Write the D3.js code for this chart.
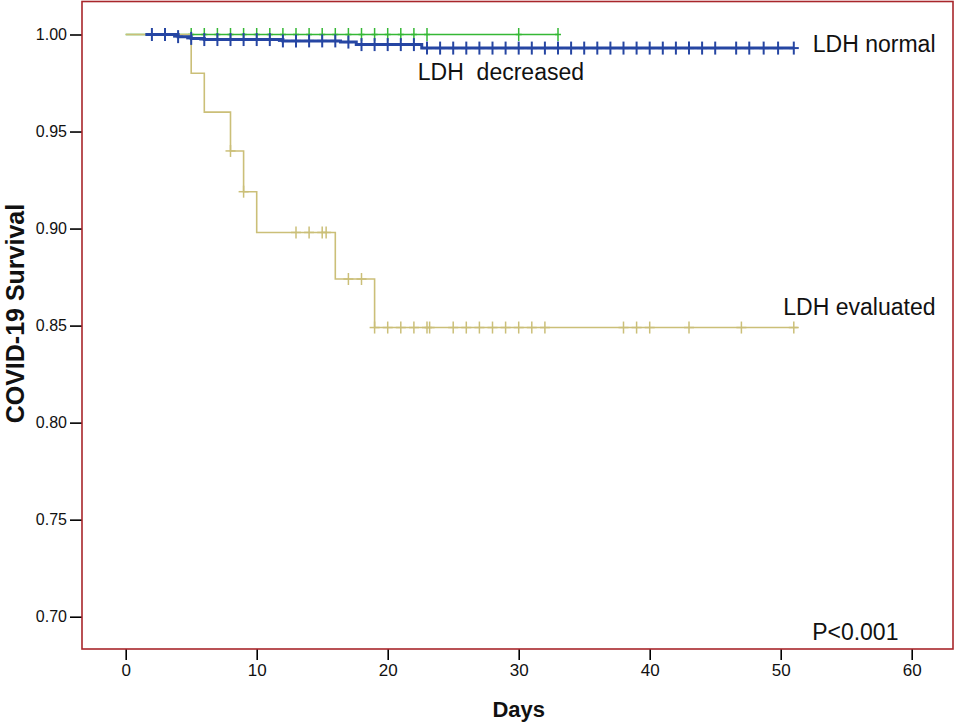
<!DOCTYPE html>
<html>
<head>
<meta charset="utf-8">
<script src="https://cdn.jsdelivr.net/npm/d3@7"></script>
<style>
  html, body { margin: 0; padding: 0; background: #fff; }
  svg { display: block; font-family: "Liberation Sans", Arial, sans-serif; }
</style>
</head>
<body>
<svg id="chart" width="957" height="722"></svg>
<script>
// ---- data ----
const xTicks = [0, 10, 20, 30, 40, 50, 60];
const yTicks = [0.70, 0.75, 0.80, 0.85, 0.90, 0.95, 1.00];

// LDH decreased (green): no events
const greenStepTimes = [0];
const greenStepSurv  = [1.0];
const greenEnd = 33;
const greenCensor = [5,6,7,8,9,10,11,12,13,14,15,16,17,18,19,20,21,22,23,30,33];

// LDH normal (blue)
const blueStepTimes = [1.5, 4, 5, 6, 12, 16.4, 17.6, 22.6];
const blueStepSurv  = [1.0, 0.9989, 0.9980, 0.9974, 0.9967, 0.9961, 0.9948, 0.9930];
const blueEnd = 51;
const blueCensor = [2,3,4,5,6,7,8,9,10,11,12,13,14,15,16,17,18,19,20,21,22,23,24,25,26,27,28,29,30,
  31,32,33,34,35,36,37,38,39,40,41,42,43,44,45,46.6,47.6,48.7,49.8,51];

// LDH elevated (tan)
const tanStepTimes = [0, 5, 6, 8, 9, 10, 16, 19];
const tanStepSurv  = [1.0, 0.98, 0.96, 0.94, 0.919, 0.898, 0.874, 0.849];
const tanEnd = 51.3;
const tanCensor = [8,9,13,14,15,15.3,17,18,19,20,21,22,23,23.2,25,26,27,28,29,30,31,32,38,39,40,43,47,51];

const labels = [
  {text: "LDH normal", t: 52.45, s: 0.9910},
  {text: "LDH  decreased", t: 22.3, s: 0.9766},
  {text: "LDH evaluated", t: 50.2, s: 0.8555},
  {text: "P<0.001", t: 52.4, s: 0.6880}
];

// ---- scales ----
const svg = d3.select("#chart");
const x = d3.scaleLinear().domain([0, 60]).range([125.7, 911.7]);
const y = d3.scaleLinear().domain([0.70, 1.00]).range([616.7, 34.5]);

const frame = {x0: 82, x1: 953, y0: 1.5, y1: 649};

// axes
const yAxis = d3.axisLeft(y).tickValues(yTicks).tickFormat(d3.format(".2f"))
  .tickSize(12).tickSizeOuter(0).tickPadding(3);
const gy = svg.append("g").attr("transform", `translate(${frame.x0},0)`).call(yAxis);
gy.select(".domain").remove();
gy.selectAll(".tick line").attr("stroke", "#000").attr("stroke-width", 1.6);
gy.selectAll(".tick text").attr("font-size", 16).attr("fill", "#111")
  .attr("font-family", "'Liberation Sans', Arial, sans-serif");

const xAxis = d3.axisBottom(x).tickValues(xTicks).tickFormat(d3.format("d"))
  .tickSize(11).tickSizeOuter(0).tickPadding(4);
const gx = svg.append("g").attr("transform", `translate(0,${frame.y1})`).call(xAxis);
gx.select(".domain").remove();
gx.selectAll(".tick line").attr("stroke", "#000").attr("stroke-width", 1.6);
gx.selectAll(".tick text").attr("font-size", 17).attr("fill", "#111")
  .attr("font-family", "'Liberation Sans Narrow', 'Liberation Sans', Arial, sans-serif");

// frame
svg.append("rect")
  .attr("x", frame.x0).attr("y", frame.y0)
  .attr("width", frame.x1 - frame.x0).attr("height", frame.y1 - frame.y0)
  .attr("fill", "none").attr("stroke", "#a8262b").attr("stroke-width", 1.6);

// step path builder
function stepPoints(times, surv, end) {
  const pts = times.map((t, i) => [t, surv[i]]);
  pts.push([end, surv[surv.length - 1]]);
  return pts;
}
const line = d3.line().x(d => x(d[0])).y(d => y(d[1])).curve(d3.curveStepAfter);

function survAt(times, surv, t) {
  let s = surv[0];
  for (let i = 0; i < times.length; i++) if (times[i] <= t) s = surv[i];
  return s;
}

function drawSeries(times, surv, end, censor, color, lw, cw, half, hw) {
  const g = svg.append("g");
  g.append("path").datum(stepPoints(times, surv, end))
    .attr("d", line).attr("fill", "none").attr("stroke", color).attr("stroke-width", lw);
  const c = g.selectAll("g.c").data(censor).enter().append("g")
    .attr("transform", d => `translate(${x(d)},${y(survAt(times, surv, d))})`);
  c.append("line").attr("x1", 0).attr("x2", 0).attr("y1", -half).attr("y2", half)
    .attr("stroke", color).attr("stroke-width", cw);
  c.append("line").attr("x1", -hw).attr("x2", hw).attr("y1", 0).attr("y2", 0)
    .attr("stroke", color).attr("stroke-width", cw);
}

drawSeries(greenStepTimes, greenStepSurv, greenEnd, greenCensor, "#35b835", 1.6, 1.5, 6.5, 3);
drawSeries(tanStepTimes, tanStepSurv, tanEnd, tanCensor, "#cbbf78", 1.6, 1.5, 6, 5);
drawSeries(blueStepTimes, blueStepSurv, blueEnd, blueCensor, "#2646a3", 3, 2, 6.5, 5);

// series labels
svg.append("g").selectAll("text").data(labels).enter().append("text")
  .attr("x", d => x(d.t)).attr("y", d => y(d.s))
  .attr("font-size", 23).attr("fill", "#111")
  .style("white-space", "pre").attr("xml:space", "preserve")
  .text(d => d.text);

// axis titles
svg.append("text").attr("x", x(30)).attr("y", 717).attr("text-anchor", "middle")
  .attr("font-size", 22).attr("font-weight", "bold").attr("fill", "#111").text("Days");
svg.append("text").attr("transform", `translate(23.5,${y(0.85) - 12}) rotate(-90)`)
  .attr("text-anchor", "middle").attr("font-size", 25).attr("font-weight", "bold")
  .attr("fill", "#111").text("COVID-19 Survival");
</script>
</body>
</html>
